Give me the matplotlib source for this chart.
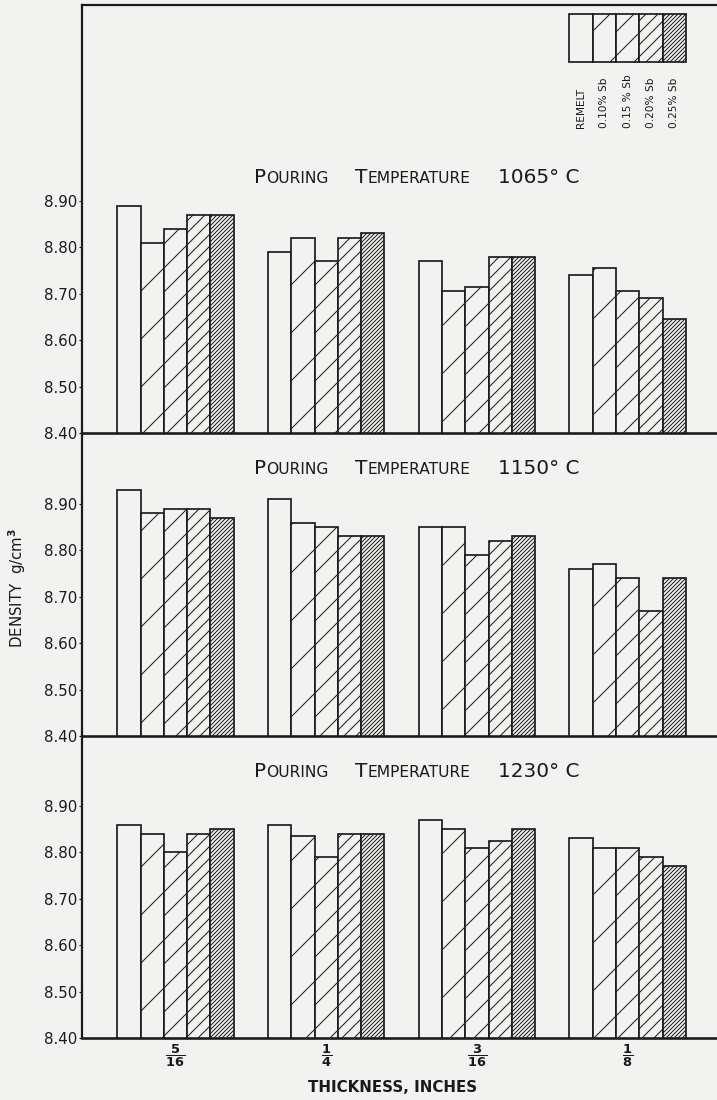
"""
Density of castings vs. section thickness for three pouring temperatures,
redrawn from the scanned figure (hatched grouped bars, three stacked panels).
"""
import numpy as np
import matplotlib
matplotlib.use("Agg")  # no display
import matplotlib.pyplot as plt
from matplotlib.offsetbox import TextArea, HPacker, AnnotationBbox

# --- data -----------------------------------------------------------------
thickness_labels = [r'$\dfrac{\mathbf{5}}{\mathbf{16}}$', r'$\dfrac{\mathbf{1}}{\mathbf{4}}$',
                    r'$\dfrac{\mathbf{3}}{\mathbf{16}}$', r'$\dfrac{\mathbf{1}}{\mathbf{8}}$']
series_labels = ['REMELT', '0.10% Sb', '0.15 % Sb', '0.20% Sb', '0.25% Sb']
temperatures = ['1065', '1150', '1230']

# rows: remelt, 0.10, 0.15, 0.20, 0.25 % Sb ; columns: 5/16, 1/4, 3/16, 1/8 in.
density_1065 = [[8.89, 8.79, 8.77, 8.74],
                [8.81, 8.82, 8.705, 8.755],
                [8.84, 8.77, 8.715, 8.705],
                [8.87, 8.82, 8.78, 8.69],
                [8.87, 8.83, 8.78, 8.645]]
density_1150 = [[8.93, 8.91, 8.85, 8.76],
                [8.88, 8.86, 8.85, 8.77],
                [8.89, 8.85, 8.79, 8.74],
                [8.89, 8.83, 8.82, 8.67],
                [8.87, 8.83, 8.83, 8.74]]
density_1230 = [[8.86, 8.86, 8.87, 8.83],
                [8.84, 8.835, 8.85, 8.81],
                [8.80, 8.79, 8.81, 8.81],
                [8.84, 8.84, 8.825, 8.79],
                [8.85, 8.84, 8.85, 8.77]]
y_ticks = [8.40, 8.50, 8.60, 8.70, 8.80, 8.90]

# --- styling -----------------------------------------------------------------
DPI = 288            # high dpi so the sparse hatches get ~48 px spacing
W_PX, H_PX = 717, 1100
BG = '#f2f2f0'
INK = '#1a1a1a'
# line spacing comes out at ~96 px / number of slashes here
HATCHES = ['', '//', '////', '////////', '/' * 24]
BAR_W = 0.1546
PX_PER_UNIT = 464.0  # vertical scale, pixels per 1 g/cm3
AX_LEFT_PX = 82
PANELS_PX = [(5, 433), (433, 736), (736, 1038)]  # (top, bottom) of each panel
TITLE_Y_PX = [177, 469, 772]


def px(v):
    """pixels -> points at the working dpi"""
    return v * 72.0 / DPI


plt.rcParams['font.family'] = ['DejaVu Sans']
plt.rcParams['mathtext.fontset'] = 'dejavusans'
plt.rcParams['hatch.linewidth'] = px(1.0)
plt.rcParams['hatch.color'] = INK


def small_caps(words, big, small):
    """Fake small caps: first letter large, rest small, on one baseline."""
    packs = []
    for w in words:
        if w[0].isalpha():
            kids = [TextArea(w[0], textprops=dict(fontsize=big, color=INK)),
                    TextArea(w[1:].upper(), textprops=dict(fontsize=small, color=INK))]
        else:
            kids = [TextArea(w, textprops=dict(fontsize=big, color=INK))]
        packs.append(HPacker(children=kids, align='baseline', pad=0, sep=0))
    return HPacker(children=packs, align='baseline', pad=0, sep=px(27))


fig = plt.figure(figsize=(W_PX / DPI, H_PX / DPI), dpi=DPI, facecolor=BG)

x = np.arange(len(thickness_labels))
x_left = -(175.5 - AX_LEFT_PX) / 150.7
x_right = x_left + (W_PX + 2 - AX_LEFT_PX) / 150.7

axes = []
for k, (temp, data) in enumerate(zip(temperatures, [density_1065, density_1150, density_1230])):
    top_px, bot_px = PANELS_PX[k]
    ax = fig.add_axes([AX_LEFT_PX / W_PX, 1 - bot_px / H_PX,
                       (W_PX + 2 - AX_LEFT_PX) / W_PX, (bot_px - top_px) / H_PX])
    ax.set_facecolor('none')
    axes.append(ax)

    for i, vals in enumerate(data):
        ax.bar(x + (i - 2) * BAR_W, vals, width=BAR_W, color=BG, edgecolor=INK,
               linewidth=px(1.7), hatch=HATCHES[i])

    ax.set_xlim(x_left, x_right)
    ax.set_ylim(8.40, 8.40 + (bot_px - top_px) / PX_PER_UNIT)
    ax.set_yticks(y_ticks)
    ax.set_yticklabels([f'{v:.2f}' for v in y_ticks])
    ax.tick_params(axis='y', direction='out', length=px(3), width=px(1.2),
                   pad=px(2), labelsize=px(15), colors=INK)

    ax.spines['right'].set_visible(False)
    ax.spines['top'].set_visible(k == 0)
    ax.spines['top'].set_linewidth(px(2.2))
    ax.spines['left'].set_linewidth(px(2.2))
    ax.spines['bottom'].set_linewidth(px(2.6))
    for s in ax.spines.values():
        s.set_color(INK)

    if k == 2:
        ax.set_xticks(x)
        ax.set_xticklabels(thickness_labels)
        ax.tick_params(axis='x', length=0, pad=px(5), labelsize=px(13), colors=INK)
    else:
        ax.set_xticks([])

    title = small_caps(['Pouring', 'Temperature', temp + '° C'], px(20), px(15.5))
    ty = 8.40 + (bot_px - TITLE_Y_PX[k]) / PX_PER_UNIT
    ax.add_artist(AnnotationBbox(title, (1.6, ty), xycoords='data',
                                 box_alignment=(0.5, 0.5), frameon=False, pad=0))

# legend: a strip of hatched cells above the last group, labels turned upright
ax1 = axes[0]
leg_x = x[-1] + (np.arange(len(series_labels)) - 2) * BAR_W
for i, lab in enumerate(series_labels):
    ax1.bar(leg_x[i], 0.103, bottom=9.20, width=BAR_W, color=BG, edgecolor=INK,
            linewidth=px(1.7), hatch=HATCHES[i])
    ax1.text(leg_x[i], 9.057, lab, rotation=90, ha='center', va='bottom',
             fontsize=px(10.5) if i == 0 else px(10.5), color=INK)

fig.text(17 / W_PX, 1 - 588 / H_PX, r'DENSITY  g/cm$^{\mathbf{3}}$', rotation=90,
         ha='center', va='center', fontsize=px(15), color=INK)
fig.text(393 / W_PX, 1 - 1088 / H_PX, 'THICKNESS, INCHES', ha='center', va='center',
         fontsize=px(15), fontweight='bold', color=INK)

fig.savefig('out.png', dpi=DPI, facecolor=BG)
